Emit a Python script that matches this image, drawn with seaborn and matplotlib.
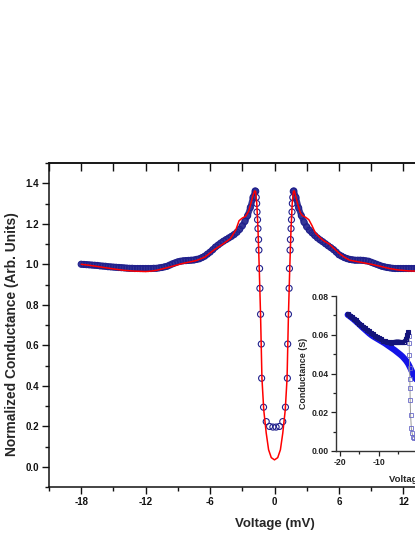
import numpy as np
import pandas as pd
import matplotlib
matplotlib.use("Agg")
import matplotlib.pyplot as plt
import seaborn as sns
from matplotlib.ticker import MultipleLocator, FormatStrFormatter

# ---------------- data ----------------
# main panel: measured normalized conductance (open circles)
data_v = [-18.00, -17.75, -17.50, -17.25, -17.00, -16.75, -16.50, -16.25, -16.00, -15.75,
          -15.50, -15.25, -15.00, -14.75, -14.50, -14.25, -14.00, -13.75, -13.50, -13.25,
          -13.00, -12.75, -12.50, -12.25, -12.00, -11.75, -11.50, -11.25, -11.00, -10.75,
          -10.50, -10.25, -10.00, -9.75, -9.50, -9.25, -9.00, -8.75, -8.50, -8.25,
          -8.00, -7.75, -7.50, -7.25, -7.00, -6.75, -6.50, -6.25, -6.00, -5.75,
          -5.50, -5.25, -5.00, -4.75, -4.50, -4.25, -4.00, -3.75, -3.50, -3.25,
          -3.00, -2.75, -2.50, -2.25, -2.00, -1.80, -1.75, -1.70, -1.66, -1.63,
          -1.58, -1.54, -1.48, -1.45, -1.39, -1.36, -1.30, -1.23, -1.20, -1.02,
          -0.77, -0.46, -0.15, 0.15, 0.46, 0.77, 1.02, 1.20, 1.23, 1.30,
          1.36, 1.39, 1.45, 1.48, 1.54, 1.58, 1.63, 1.66, 1.70, 1.75,
          1.80, 2.00, 2.25, 2.50, 2.75, 3.00, 3.25, 3.50, 3.75, 4.00,
          4.25, 4.50, 4.75, 5.00, 5.25, 5.50, 5.75, 6.00, 6.25, 6.50,
          6.75, 7.00, 7.25, 7.50, 7.75, 8.00, 8.25, 8.50, 8.75, 9.00,
          9.25, 9.50, 9.75, 10.00, 10.25, 10.50, 10.75, 11.00, 11.25, 11.50,
          11.75, 12.00, 12.25, 12.50, 12.75, 13.00, 13.25, 13.50]
data_g = [1.000, 0.999, 0.998, 0.997, 0.996, 0.995, 0.994, 0.992, 0.991, 0.990,
          0.988, 0.987, 0.986, 0.985, 0.984, 0.983, 0.982, 0.981, 0.980, 0.980,
          0.979, 0.979, 0.979, 0.979, 0.979, 0.979, 0.979, 0.980, 0.980, 0.982,
          0.984, 0.987, 0.990, 0.996, 1.002, 1.007, 1.012, 1.015, 1.017, 1.018,
          1.019, 1.020, 1.021, 1.024, 1.027, 1.033, 1.040, 1.050, 1.060, 1.072,
          1.085, 1.095, 1.105, 1.114, 1.122, 1.130, 1.138, 1.147, 1.158, 1.172,
          1.190, 1.212, 1.240, 1.280, 1.330, 1.362, 1.360, 1.330, 1.300, 1.258,
          1.220, 1.176, 1.122, 1.070, 0.979, 0.881, 0.753, 0.606, 0.437, 0.294,
          0.223, 0.199, 0.196, 0.196, 0.199, 0.223, 0.294, 0.437, 0.606, 0.753,
          0.881, 0.979, 1.070, 1.122, 1.176, 1.220, 1.258, 1.300, 1.330, 1.360,
          1.362, 1.330, 1.278, 1.240, 1.208, 1.185, 1.168, 1.155, 1.142, 1.130,
          1.120, 1.111, 1.101, 1.091, 1.082, 1.072, 1.060, 1.047, 1.040, 1.033,
          1.028, 1.024, 1.022, 1.020, 1.020, 1.020, 1.019, 1.017, 1.015, 1.010,
          1.005, 1.000, 0.995, 0.990, 0.987, 0.984, 0.982, 0.980, 0.979, 0.979,
          0.979, 0.979, 0.979, 0.979, 0.979, 0.979, 0.979, 0.979]

# main panel: fit (red line)
fit_v = [-18.0, -17.0, -16.0, -15.0, -14.0, -13.0, -12.0, -11.5, -11.0, -10.3,
         -9.5, -8.7, -8.0, -7.3, -6.5, -5.6, -4.8, -4.1, -3.6, -3.3,
         -3.0, -2.7, -2.4, -2.2, -2.0, -1.85, -1.76, -1.65, -1.54, -1.42,
         -1.30, -1.17, -1.00, -0.77, -0.55, -0.30, 0.00, 0.30, 0.55, 0.77,
         1.00, 1.17, 1.30, 1.42, 1.54, 1.65, 1.76, 1.85, 2.0, 2.2,
         2.4, 2.6, 2.9, 3.2, 3.5, 3.8, 4.2, 4.6, 5.1, 5.6,
         6.0, 6.5, 7.0, 8.0, 9.0, 10.0, 10.7, 11.5, 12.5, 13.5]
fit_g = [1.000, 0.993, 0.985, 0.977, 0.970, 0.966, 0.964, 0.966, 0.970, 0.979,
         0.990, 1.002, 1.010, 1.018, 1.035, 1.072, 1.100, 1.127, 1.170, 1.215,
         1.228, 1.236, 1.262, 1.300, 1.340, 1.362, 1.360, 1.300, 1.176, 0.980,
         0.753, 0.437, 0.280, 0.166, 0.084, 0.045, 0.034, 0.045, 0.084, 0.166,
         0.280, 0.437, 0.753, 0.980, 1.176, 1.300, 1.360, 1.362, 1.330, 1.290,
         1.255, 1.240, 1.232, 1.220, 1.190, 1.155, 1.133, 1.115, 1.100, 1.075,
         1.055, 1.035, 1.020, 1.010, 1.000, 0.988, 0.979, 0.972, 0.967, 0.966]

# inset: superconducting-state conductance (S)
sc_v = [-18.0, -17.5, -17.0, -16.5, -16.0, -15.5, -15.0, -14.5, -14.0, -13.5,
        -13.0, -12.5, -12.0, -11.5, -11.0, -10.5, -10.0, -9.5, -9.0, -8.5,
        -8.0, -7.5, -7.0, -6.5, -6.0, -5.5, -5.0, -4.5, -4.0, -3.5,
        -3.0, -2.7, -2.5, -2.35, -2.25, -2.2, -2.15, -2.1, -2.05, -2.0,
        -1.9, -1.7, -1.5, -1.2, -0.9, -0.5]
sc_g = [0.0705, 0.0698, 0.0690, 0.0682, 0.0674, 0.0666, 0.0658, 0.0650, 0.0642, 0.0634,
        0.0626, 0.0618, 0.0610, 0.0602, 0.0595, 0.0588, 0.0581, 0.0576, 0.0570, 0.0566,
        0.0563, 0.0561, 0.0560, 0.0561, 0.0563, 0.0565, 0.0565, 0.0563, 0.0561, 0.0565,
        0.0578, 0.0598, 0.0612, 0.0595, 0.0556, 0.0495, 0.0427, 0.0370, 0.0324, 0.0263,
        0.0186, 0.0117, 0.0091, 0.0074, 0.0068, 0.0065]
# inset: normal-state conductance (S)
nm_v = [-18.0, -17.5, -17.0, -16.5, -16.0, -15.5, -15.0, -14.5, -14.0, -13.5,
        -13.0, -12.5, -12.0, -11.5, -11.0, -10.5, -10.0, -9.5, -9.0, -8.5,
        -8.0, -7.5, -7.0, -6.5, -6.0, -5.5, -5.0, -4.5, -4.0, -3.5,
        -3.0, -2.5, -2.0, -1.5, -1.0, -0.5, 0.0]
nm_g = [0.0703, 0.0696, 0.0688, 0.0680, 0.0671, 0.0662, 0.0653, 0.0643, 0.0634, 0.0625,
        0.0616, 0.0607, 0.0599, 0.0592, 0.0586, 0.0580, 0.0574, 0.0568, 0.0562, 0.0556,
        0.0549, 0.0542, 0.0535, 0.0528, 0.0521, 0.0513, 0.0505, 0.0497, 0.0488, 0.0477,
        0.0465, 0.0450, 0.0430, 0.0408, 0.0385, 0.0370, 0.0360]

main_xticks = [-18, -12, -6, 0, 6, 12, 18]
main_yticks = [0.0, 0.2, 0.4, 0.6, 0.8, 1.0, 1.2, 1.4]
inset_xticks = [-20, -10, 0, 10, 20]
inset_yticks = [0.00, 0.02, 0.04, 0.06, 0.08]

# ---------------- style ----------------
sns.set_theme(style="ticks")
plt.rcParams["font.family"] = ["Liberation Sans", "DejaVu Sans"]
plt.rcParams["font.weight"] = "bold"
plt.rcParams["axes.labelweight"] = "bold"
plt.rcParams["axes.linewidth"] = 1.1
plt.rcParams["axes.edgecolor"] = "#111111"
plt.rcParams["axes.unicode_minus"] = False

W, H = 415, 537
fig = plt.figure(figsize=(W / 100, H / 100), dpi=100)
fig.patch.set_facecolor("white")

NAVY = "#20208c"

# main axes (extends past the right edge, as in the reference crop)
ax = fig.add_axes([49 / W, (H - 487) / H, 451 / W, 324 / H])
ax.set_facecolor("none")

main_df = pd.DataFrame({"v": data_v, "g": data_g})
fit_df = pd.DataFrame({"v": fit_v, "g": fit_g})

# dense, heavily over-plotted parts of the measurement appear as a solid band
left_dense = main_df[main_df["v"] <= -1.8]
right_dense = main_df[main_df["v"] >= 1.8]
for part in (left_dense, right_dense):
    sns.lineplot(data=part, x="v", y="g", ax=ax, sort=False, estimator=None,
                 color=NAVY, linewidth=4.4, alpha=0.9, zorder=2)
sns.scatterplot(data=main_df, x="v", y="g", ax=ax, marker="o", s=19,
                facecolor="none", edgecolor=NAVY, linewidth=0.8, zorder=2)
sns.lineplot(data=fit_df, x="v", y="g", ax=ax, sort=False, estimator=None,
             color="#ff0000", linewidth=1.1, zorder=3)

ax.set_xlim(-21, 21)
ax.set_ylim(-0.1, 1.5)
ax.set_xticks(main_xticks)
ax.set_yticks(main_yticks)
ax.xaxis.set_minor_locator(MultipleLocator(3))
ax.yaxis.set_minor_locator(MultipleLocator(0.1))
ax.yaxis.set_major_formatter(FormatStrFormatter("%.1f"))
ax.tick_params(which="major", direction="out", length=5, width=1.0,
               labelsize=7, pad=2, colors="#111111")
ax.tick_params(which="minor", direction="out", length=3, width=1.0, colors="#111111")
ax.tick_params(top=False, right=False, which="both")
for lab in ax.get_xticklabels() + ax.get_yticklabels():
    lab.set_fontweight("bold")

sec = ax.secondary_xaxis("top")
sec.xaxis.set_major_locator(MultipleLocator(3))
sec.tick_params(direction="in", length=5.5, width=1.0, labeltop=False, colors="#111111")

ax.set_xlabel("Voltage (mV)", fontsize=9.5, fontweight="bold", labelpad=8)
ax.set_ylabel("Normalized Conductance (Arb. Units)", fontsize=9.9, fontweight="bold")
ax.yaxis.set_label_coords(-0.066, 0.472)

# inset
axin = fig.add_axes([336 / W, (H - 451) / H, 164 / W, 155 / H])
axin.set_facecolor("none")
for sp in ["top", "right"]:
    axin.spines[sp].set_visible(False)
for sp in ["left", "bottom"]:
    axin.spines[sp].set_color("#333333")
    axin.spines[sp].set_linewidth(1.0)

nm_df = pd.DataFrame({"v": nm_v, "g": nm_g})
sc_df = pd.DataFrame({"v": sc_v, "g": sc_g})
sns.lineplot(data=nm_df, x="v", y="g", ax=axin, sort=False, estimator=None,
             color="#1414e6", linewidth=4.5, zorder=2)
sns.lineplot(data=sc_df, x="v", y="g", ax=axin, sort=False, estimator=None,
             color="#9a9a9a", linewidth=0.7, marker="s", markersize=3.2,
             markerfacecolor="none", markeredgecolor="#6a6ac8",
             markeredgewidth=0.6, zorder=3)
dense = sc_df[sc_df["v"] <= -2.5]
sns.lineplot(data=dense, x="v", y="g", ax=axin, sort=False, estimator=None,
             color="#14147a", linewidth=3.0, marker="s", markersize=3.2,
             markerfacecolor="none", markeredgecolor="#14147a",
             markeredgewidth=0.8, zorder=4)

axin.set_xlim(-21, 21)
axin.set_ylim(0, 0.08)
axin.set_xticks(inset_xticks)
axin.set_yticks(inset_yticks)
axin.xaxis.set_minor_locator(MultipleLocator(5))
axin.yaxis.set_minor_locator(MultipleLocator(0.01))
axin.yaxis.set_major_formatter(FormatStrFormatter("%.2f"))
axin.tick_params(which="major", direction="out", length=3.5, width=0.9,
                 labelsize=6.2, pad=1.5, colors="#222222")
axin.tick_params(which="minor", direction="out", length=2, width=0.9, colors="#222222")
for lab in axin.get_xticklabels() + axin.get_yticklabels():
    lab.set_fontweight("bold")
axin.set_xlabel("Voltage (mV)", fontsize=6.8, fontweight="bold", labelpad=6)
axin.set_ylabel("Conductance (S)", fontsize=6.4, fontweight="bold", labelpad=3)

fig.savefig("out.png", dpi=100)
